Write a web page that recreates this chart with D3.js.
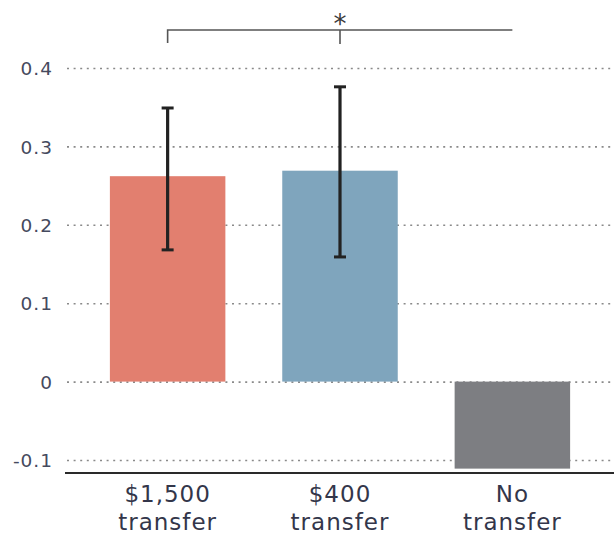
<!DOCTYPE html>
<html>
<head>
<meta charset="utf-8">
<script src="https://cdn.jsdelivr.net/npm/d3@7"></script>
<style>
  html, body { margin: 0; padding: 0; background: #fff; }
  svg { display: block; }
</style>
</head>
<body>
<svg id="chart" width="614" height="535"></svg>
<script>
// Cash transfer groups and their estimated effects
const groups = ["$1,500 transfer", "$400 transfer", "No transfer"];
const labelLines = [["$1,500", "transfer"], ["$400", "transfer"], ["No", "transfer"]];
const effects = [0.262, 0.269, -0.111];
const ciLow = [0.168, 0.159, null];
const ciHigh = [0.349, 0.376, null];
const barColors = ["#e27f6f", "#7fa5bd", "#7d7e82"];
const yTicks = [-0.1, 0, 0.1, 0.2, 0.3, 0.4];

const svg = d3.select("#chart");
const font = "'DejaVu Sans', sans-serif";

const y = d3.scaleLinear().domain([-0.1, 0.4]).range([460, 68]);
const x = d3.scaleBand().domain(groups).range([53, 627]).paddingInner(0.33).paddingOuter(0.33);

// Dotted gridlines with tick labels
const yAxis = svg.append("g")
  .attr("transform", "translate(67,0)")
  .call(d3.axisLeft(y)
    .tickValues(yTicks)
    .tickSize(-547)
    .tickPadding(14)
    .tickFormat(d => d === 0 ? "0" : d.toFixed(1)));
yAxis.select(".domain").remove();
yAxis.selectAll(".tick line")
  .attr("stroke", "#8a8a8a")
  .attr("stroke-width", 1.6)
  .attr("stroke-dasharray", "2,4.6");
yAxis.selectAll(".tick text")
  .attr("fill", "#454a5e")
  .attr("dy", "0.36em")
  .style("font-family", font)
  .style("font-size", "18.5px")
  .style("letter-spacing", "1px");

// Bars
svg.append("g").selectAll("rect")
  .data(groups)
  .join("rect")
  .attr("x", d => x(d))
  .attr("width", x.bandwidth())
  .attr("y", (d, i) => y(Math.max(0, effects[i])))
  .attr("height", (d, i) => Math.abs(y(effects[i]) - y(0)))
  .attr("fill", (d, i) => barColors[i]);

// Error bars
const eb = svg.append("g").attr("stroke", "#222").attr("fill", "none");
groups.forEach((g, i) => {
  if (ciLow[i] == null) return;
  const cx = x(g) + x.bandwidth() / 2;
  eb.append("line").attr("x1", cx).attr("x2", cx)
    .attr("y1", y(ciLow[i])).attr("y2", y(ciHigh[i])).attr("stroke-width", 3.2);
  [ciLow[i], ciHigh[i]].forEach(v => {
    eb.append("line").attr("x1", cx - 6).attr("x2", cx + 6)
      .attr("y1", y(v)).attr("y2", y(v)).attr("stroke-width", 3);
  });
});

// Baseline axis with category labels
const xAxis = svg.append("g")
  .attr("transform", "translate(0,473)")
  .call(d3.axisBottom(x).tickSize(0).tickFormat(""));
xAxis.select(".domain").remove();
svg.append("line")
  .attr("x1", 65).attr("x2", 614).attr("y1", 473).attr("y2", 473)
  .attr("stroke", "#2a2a2a").attr("stroke-width", 2.2);
xAxis.selectAll(".tick").each(function(d, i) {
  const t = d3.select(this).append("text")
    .attr("text-anchor", "middle")
    .attr("fill", "#33364a")
    .style("font-family", font)
    .style("font-size", "23px")
    .style("letter-spacing", "1px");
  labelLines[i].forEach((line, j) => {
    t.append("tspan").attr("x", 0).attr("y", 29 + j * 28).text(line);
  });
});

// Significance bracket between the two transfer groups
const c0 = x(groups[0]) + x.bandwidth() / 2;
const c1 = x(groups[1]) + x.bandwidth() / 2;
const c2 = x(groups[2]) + x.bandwidth() / 2;
const br = svg.append("g").attr("stroke", "#555").attr("stroke-width", 1.6).attr("fill", "none");
br.append("path").attr("d", `M${c0},43V30H${c2}`);
br.append("line").attr("x1", c1).attr("x2", c1).attr("y1", 30).attr("y2", 44);
svg.append("text")
  .attr("x", c1).attr("y", 33)
  .attr("text-anchor", "middle")
  .attr("fill", "#3a3a3a")
  .style("font-family", font)
  .style("font-size", "26px")
  .text("*");
</script>
</body>
</html>
